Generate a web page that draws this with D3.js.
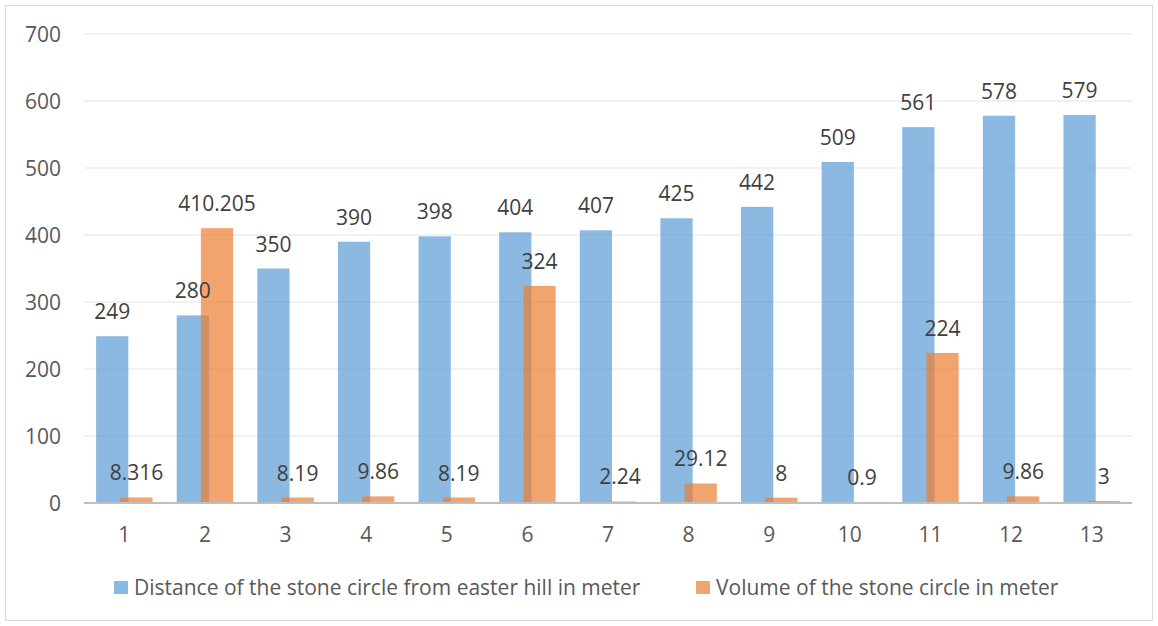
<!DOCTYPE html>
<html>
<head>
<meta charset="utf-8">
<script src="https://cdn.jsdelivr.net/npm/d3@7"></script>
<style>
  html, body { margin: 0; padding: 0; background: #fff; }
  svg { display: block; }
  text { font-family: "Open Sans", sans-serif; }
</style>
</head>
<body>
<svg id="chart" width="1158" height="626"></svg>
<script>
// Circle numbers on the x axis
const categories = ["1","2","3","4","5","6","7","8","9","10","11","12","13"];
// Distance of each stone circle from Easter Hill (m)
const distance = [249, 280, 350, 390, 398, 404, 407, 425, 442, 509, 561, 578, 579];
// Volume of each stone circle
const volume = [8.316, 410.205, 8.19, 9.86, 8.19, 324, 2.24, 29.12, 8, 0.9, 224, 9.86, 3];
// Value axis ticks
const yTicks = [0, 100, 200, 300, 400, 500, 600, 700];
const seriesNames = [
  "Distance of the stone circle from easter hill in meter",
  "Volume of the stone circle in meter"
];
const colors = ["#5B9BD5", "#ED7D31"];

const W = 1158, H = 626;
const plot = { left: 84, right: 1132, top: 34, bottom: 503 };
const FS = 21;

const svg = d3.select("#chart");

// chart frame
svg.append("rect")
  .attr("x", 5.5).attr("y", 5.5)
  .attr("width", W - 11).attr("height", H - 11)
  .attr("fill", "#fff").attr("stroke", "#d9d9d9").attr("stroke-width", 1);

const x = d3.scaleBand().domain(categories).range([plot.left, plot.right]).padding(0);
const y = d3.scaleLinear().domain([0, 700]).range([plot.bottom, plot.top]);

// horizontal gridlines
svg.append("g").selectAll("line").data(yTicks.filter(t => t > 0)).join("line")
  .attr("x1", plot.left).attr("x2", plot.right)
  .attr("y1", d => y(d)).attr("y2", d => y(d))
  .attr("stroke", "#ececec").attr("stroke-width", 1.3);

// y axis labels
const yAxis = d3.axisLeft(y).tickValues(yTicks).tickSize(0).tickPadding(23);
const gy = svg.append("g").attr("transform", `translate(${plot.left},0)`).call(yAxis);
gy.select(".domain").remove();
gy.selectAll("text")
  .attr("font-size", FS).attr("fill", "#595959").attr("dy", "0.36em")
  .style("font-family", "'Open Sans', sans-serif");

// bar geometry: two overlapping bars per category
const step = x.bandwidth();
const barW = step * 0.4;
const overlap = barW * 0.25;
const groupW = 2 * barW - overlap;
const offsets = [-groupW / 2, -groupW / 2 + barW - overlap];

const series = [distance, volume];
series.forEach((vals, si) => {
  const g = svg.append("g");
  g.selectAll("rect").data(vals).join("rect")
    .attr("x", (d, i) => x(categories[i]) + step / 2 + offsets[si])
    .attr("y", d => y(d))
    .attr("width", barW)
    .attr("height", d => y(0) - y(d))
    .attr("fill", colors[si])
    .attr("fill-opacity", 0.7);
});

// x axis line
svg.append("line")
  .attr("x1", plot.left).attr("x2", plot.right)
  .attr("y1", y(0)).attr("y2", y(0))
  .attr("stroke", "#bfbfbf").attr("stroke-width", 2);

// x axis labels
const xAxis = d3.axisBottom(x).tickSize(0).tickPadding(24);
const gx = svg.append("g").attr("transform", `translate(0,${plot.bottom})`).call(xAxis);
gx.select(".domain").remove();
gx.selectAll("text")
  .attr("font-size", FS).attr("fill", "#595959")
  .style("font-family", "'Open Sans', sans-serif");

// value labels above each bar
series.forEach((vals, si) => {
  svg.append("g").selectAll("text").data(vals).join("text")
    .attr("x", (d, i) => x(categories[i]) + step / 2 + offsets[si] + barW / 2)
    .attr("y", d => y(d) - 17)
    .attr("text-anchor", "middle")
    .attr("font-size", FS)
    .attr("fill", "#404040")
    .text(d => d);
});

// legend
const legendItems = [
  { x: 114, name: seriesNames[0], color: colors[0] },
  { x: 696, name: seriesNames[1], color: colors[1] }
];
const lg = svg.append("g");
legendItems.forEach(it => {
  lg.append("rect")
    .attr("x", it.x).attr("y", 581)
    .attr("width", 14).attr("height", 13)
    .attr("fill", it.color).attr("fill-opacity", 0.7);
  lg.append("text")
    .attr("x", it.x + 20).attr("y", 595)
    .attr("font-size", FS).attr("fill", "#595959")
    .text(it.name);
});
</script>
</body>
</html>
